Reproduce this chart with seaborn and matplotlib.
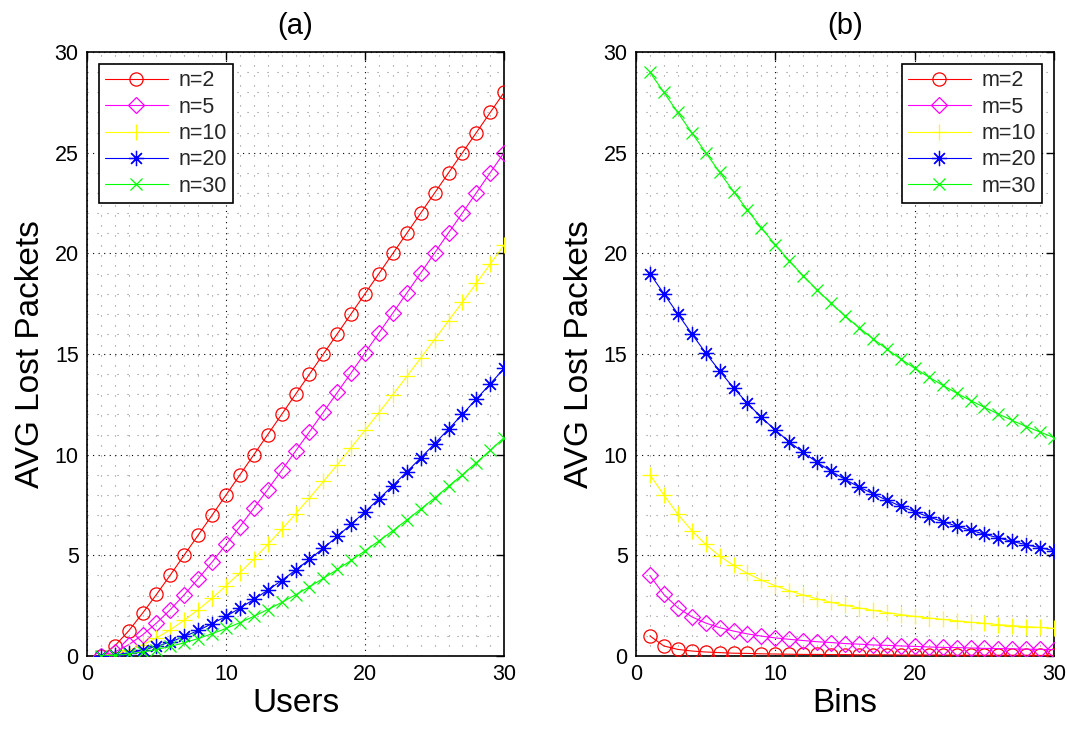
import matplotlib
matplotlib.use("Agg")
import matplotlib.pyplot as plt
import seaborn as sns
import numpy as np
import pandas as pd
from matplotlib.ticker import MultipleLocator

# ---------------- data ----------------
users = list(range(1, 31))
bins = list(range(1, 31))

# panel (a): AVG lost packets vs users, for n bins
a_labels = ["n=2", "n=5", "n=10", "n=20", "n=30"]
a_n2 = [0, 0.5, 1.25, 2.13, 3.06, 4.03, 5.02, 6.01, 7.0, 8.0, 9.0, 10.0, 11, 12, 13,
        14, 15, 16, 17, 18, 19, 20, 21, 22, 23, 24, 25, 26, 27, 28]
a_n5 = [0, 0.2, 0.56, 1.05, 1.64, 2.31, 3.05, 3.84, 4.67, 5.54, 6.43, 7.34, 8.27, 9.22, 10.18,
        11.14, 12.11, 13.09, 14.07, 15.06, 16.05, 17.04, 18.03, 19.02, 20.02, 21.02, 22.01, 23.01, 24.01, 25.01]
a_n10 = [0, 0.1, 0.29, 0.56, 0.90, 1.31, 1.78, 2.30, 2.87, 3.49, 4.14, 4.82, 5.54, 6.29, 7.06,
         7.85, 8.67, 9.50, 10.35, 11.22, 12.09, 12.98, 13.89, 14.80, 15.72, 16.65, 17.58, 18.52, 19.47, 20.42]
a_n20 = [0, 0.05, 0.15, 0.29, 0.48, 0.70, 0.97, 1.27, 1.61, 1.97, 2.38, 2.81, 3.27, 3.75, 4.27,
         4.80, 5.36, 5.94, 6.55, 7.17, 7.81, 8.47, 9.15, 9.84, 10.55, 11.27, 12.01, 12.76, 13.52, 14.29]
a_n30 = [0, 0.03, 0.10, 0.20, 0.32, 0.48, 0.66, 0.87, 1.11, 1.37, 1.66, 1.97, 2.31, 2.66, 3.04,
         3.44, 3.86, 4.30, 4.75, 5.23, 5.72, 6.23, 6.76, 7.30, 7.85, 8.43, 9.01, 9.61, 10.22, 10.85]

# panel (b): AVG lost packets vs bins, for m users
b_labels = ["m=2", "m=5", "m=10", "m=20", "m=30"]
b_m2 = [1.0, 0.5, 0.33, 0.25, 0.2, 0.17, 0.14, 0.13, 0.11, 0.1, 0.09, 0.08, 0.08, 0.07, 0.07,
        0.06, 0.06, 0.06, 0.05, 0.05, 0.05, 0.05, 0.04, 0.04, 0.04, 0.04, 0.04, 0.04, 0.03, 0.03]
b_m5 = [4.0, 3.06, 2.40, 1.95, 1.64, 1.41, 1.24, 1.10, 0.99, 0.90, 0.83, 0.77, 0.71, 0.67, 0.62,
        0.59, 0.55, 0.53, 0.50, 0.48, 0.45, 0.43, 0.42, 0.40, 0.38, 0.37, 0.36, 0.34, 0.33, 0.32]
b_m10 = [9.0, 8.0, 7.05, 6.23, 5.54, 4.97, 4.50, 4.10, 3.77, 3.49, 3.24, 3.03, 2.84, 2.67, 2.52,
         2.39, 2.27, 2.16, 2.06, 1.97, 1.89, 1.82, 1.75, 1.68, 1.62, 1.56, 1.51, 1.46, 1.42, 1.37]
b_m20 = [19.0, 18.0, 17.0, 16.01, 15.06, 14.16, 13.32, 12.55, 11.85, 11.22, 10.64, 10.11, 9.62, 9.18, 8.77,
         8.40, 8.06, 7.74, 7.44, 7.17, 6.91, 6.68, 6.45, 6.25, 6.05, 5.87, 5.69, 5.53, 5.38, 5.23]
b_m30 = [29.0, 28.0, 27.0, 26.0, 25.01, 24.03, 23.07, 22.15, 21.26, 20.42, 19.63, 18.88, 18.18, 17.52, 16.89,
         16.31, 15.76, 15.24, 14.75, 14.29, 13.86, 13.45, 13.06, 12.69, 12.35, 12.02, 11.70, 11.40, 11.12, 10.85]

# ---------------- style ----------------
sns.set_theme(style="white")
plt.rcParams["font.family"] = ["Liberation Sans", "DejaVu Sans"]

colors = ["#ff0000", "#ff00ff", "#ffff00", "#0000ff", "#00ff00"]
markers = ["o", "D", "+", (8, 2, 0), "x"]
msizes = [9.5, 8.5, 12, 11, 8]
filled_none = [True, True, False, False, False]

fig = plt.figure(figsize=(10.67, 7.29), dpi=100)
ax_a = fig.add_axes([0.0815, 0.1001, 0.391, 0.8285])
ax_b = fig.add_axes([0.596, 0.1001, 0.392, 0.8285])


def draw(ax, x, series, labels, title, xlabel, legend_loc):
    for i, (y, lab) in enumerate(zip(series, labels)):
        df = pd.DataFrame({"x": x, "y": y})
        kws = dict(marker=markers[i], markersize=msizes[i], markeredgecolor=colors[i],
                   markeredgewidth=0.9, linewidth=0.8, color=colors[i])
        if filled_none[i]:
            kws["markerfacecolor"] = "none"
        sns.lineplot(data=df, x="x", y="y", ax=ax, label=lab, zorder=3, **kws)
    ax.set_xlim(0, 30)
    ax.set_ylim(0, 30)
    ax.xaxis.set_major_locator(MultipleLocator(10))
    ax.yaxis.set_major_locator(MultipleLocator(5))
    ax.xaxis.set_minor_locator(MultipleLocator(1))
    ax.yaxis.set_minor_locator(MultipleLocator(1))
    ax.grid(True, which="minor", color="#8a8a8a", linewidth=0.8, linestyle=(0, (1, 8)))
    ax.grid(True, which="major", color="black", linewidth=0.8, linestyle=(0, (1, 4)))
    ax.set_axisbelow(True)
    ax.tick_params(which="major", direction="in", length=6, width=1.0, top=True, right=True,
                   labelsize=15.5, colors="black", pad=6)
    ax.tick_params(which="minor", length=0)
    for s in ax.spines.values():
        s.set_color("black")
        s.set_linewidth(1.2)
        s.set_visible(True)
    ax.set_title(title, fontsize=21, pad=13, color="black")
    ax.set_xlabel(xlabel, fontsize=24, color="black", labelpad=2)
    ax.set_ylabel("AVG Lost Packets", fontsize=24, color="black", labelpad=6)
    leg = ax.legend(loc=legend_loc, fontsize=15.5, frameon=True, fancybox=False, framealpha=1,
                    edgecolor="black", handlelength=2.9, borderaxespad=0.55,
                    labelspacing=0.25, handletextpad=0.5, borderpad=0.3, numpoints=1)
    leg.get_frame().set_linewidth(1.2)
    leg.set_zorder(5)


draw(ax_a, users, [a_n2, a_n5, a_n10, a_n20, a_n30], a_labels, "(a)", "Users", "upper left")
draw(ax_b, bins, [b_m2, b_m5, b_m10, b_m20, b_m30], b_labels, "(b)", "Bins", "upper right")

fig.savefig("out.png", dpi=100, facecolor="white")
